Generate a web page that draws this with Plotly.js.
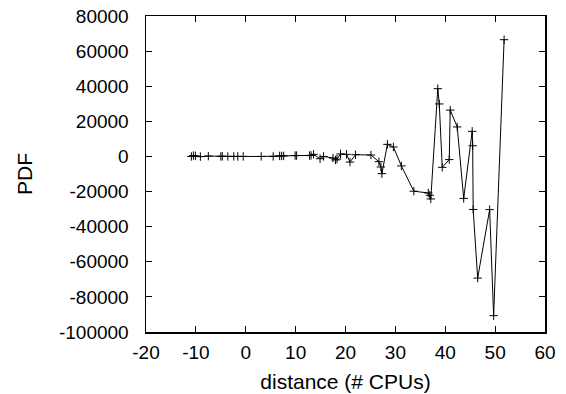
<!DOCTYPE html>
<html><head><meta charset="utf-8">
<script src="https://cdn.plot.ly/plotly-3.0.1.min.js"></script>
<style>html,body{margin:0;padding:0;background:#fff}#chart{width:566px;height:394px}</style>
</head><body><div id="chart"></div>
<script>
const distance = [-10.9,-10.5,-10.1,-9.1,-7.5,-5.0,-4.7,-3.6,-2.4,-1.6,-0.5,3.1,5.5,6.8,7.2,7.6,9.9,10.2,12.8,13.1,13.6,14.9,15.6,17.5,18.0,18.3,19.0,20.2,20.9,22.0,25.1,26.7,27.1,27.3,28.4,29.6,31.2,33.7,36.6,36.9,37.1,38.5,38.8,39.4,40.8,41.0,42.4,43.7,45.4,45.5,45.6,46.5,48.9,49.7,51.8];
const pdf = [0,500,300,-100,200,0,100,0,0,0,0,0,0,300,300,300,500,500,500,600,1200,-1300,0,-900,-2000,-1500,1400,1200,-3200,1000,800,-3000,-6000,-9800,6900,5400,-5400,-19800,-20800,-22100,-24200,38600,29900,-6200,-1800,26400,16800,-23900,14300,6100,-30200,-69300,-30300,-90700,66500];
const xTicks = [-20,-10,0,10,20,30,40,50,60];
const yTicks = [-100000,-80000,-60000,-40000,-20000,0,20000,40000,60000,80000];
const font = {family:'"Liberation Sans", Arial, sans-serif', size:19, color:'#000'};
const tfont = {family:'"Liberation Sans", Arial, sans-serif', size:21, color:'#000'};
Plotly.newPlot('chart',[{
  x: distance, y: pdf, type:'scatter', mode:'lines+markers',
  line:{color:'#000', width:1},
  marker:{symbol:'cross-thin-open', size:6, color:'#000', line:{color:'#000', width:1}},
  hoverinfo:'none'
}],{
  width:566, height:394,
  margin:{l:146, r:21, t:16, b:62, pad:0},
  paper_bgcolor:'#fff', plot_bgcolor:'#fff',
  showlegend:false,
  font: font,
  xaxis:{range:[-20,60], tickvals:xTicks, ticktext:xTicks.map(String), ticks:'inside', ticklen:6, tickcolor:'#000', tickwidth:1,
    showline:true, linecolor:'#000', linewidth:1.5, mirror:'ticks', showgrid:false, zeroline:false,
    ticklabelstandoff:3, tickfont:font,
    title:{text:'distance (# CPUs)', font:tfont, standoff:12}},
  yaxis:{range:[-100000,80000], tickvals:yTicks, ticktext:yTicks.map(String), ticks:'inside', ticklen:6, tickcolor:'#000', tickwidth:1,
    showline:true, linecolor:'#000', linewidth:1.5, mirror:'ticks', showgrid:false, zeroline:false,
    ticklabelstandoff:12, tickfont:font,
    title:{text:'PDF', font:tfont, standoff:20}}
},{displayModeBar:false, staticPlot:true});
</script></body></html>
